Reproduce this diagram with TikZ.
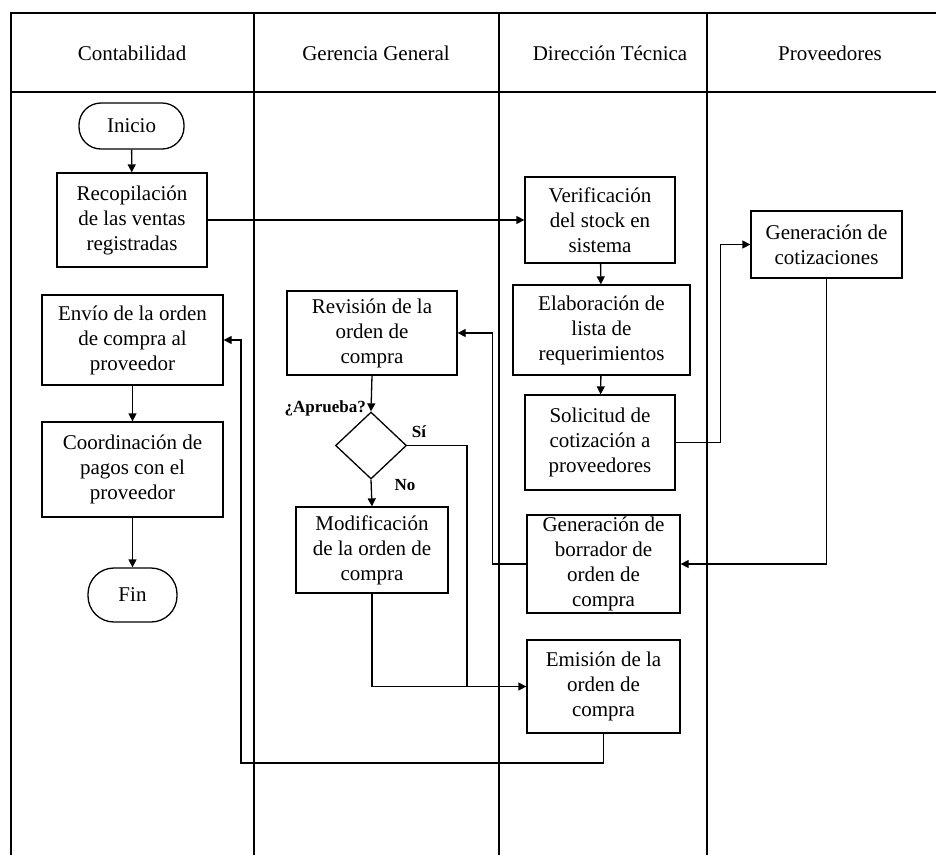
\documentclass[tikz,border=0pt]{standalone}
\usepackage{fontspec}
\setmainfont{Liberation Serif}
\usetikzlibrary{arrows.meta,shapes.geometric}
\begin{document}
\begin{tikzpicture}[x=1pt,y=-1pt,
  lane/.style={line width=1.4pt},
  proc/.style={draw,line width=1.3pt,align=center,inner sep=0pt,font=\fontsize{21}{25}\selectfont},
  term/.style={proc,rounded corners=22pt},
  dec/.style={draw,diamond,line width=1.3pt,inner sep=0pt,minimum width=71pt,minimum height=67pt},
  flow/.style={line width=1.3pt,-{Triangle[length=8pt,width=8pt]}},
  link/.style={line width=1.3pt},
  lbl/.style={font=\fontsize{17}{20}\selectfont\bfseries,inner sep=0pt},
  head/.style={font=\fontsize{21}{25}\selectfont,inner sep=0pt}]
\useasboundingbox (0,0) rectangle (936,855);
% swimlanes
\draw[lane] (11,855) -- (11,13) -- (936,13);
\draw[lane] (11,92) -- (936,92);
\draw[lane] (254,13) -- (254,855);
\draw[lane] (499,13) -- (499,855);
\draw[lane] (707,13) -- (707,855);
\node[head] (h1) at (132,53) {Contabilidad};
\node[head] (h2) at (376,53) {Gerencia General};
\node[head] (h3) at (610,53) {Dirección Técnica};
\node[head] (h4) at (830,53) {Proveedores};
% nodes
\node[term,minimum width=105pt,minimum height=46pt] (inicio) at (131.5,126) {Inicio};
\node[proc,minimum width=150pt,minimum height=94pt] (recop) at (132,220) {Recopilación\\de las ventas\\registradas};
\node[proc,minimum width=150pt,minimum height=86pt] (verif) at (600,220) {Verificación\\del stock en\\sistema};
\node[proc,minimum width=177pt,minimum height=90pt] (elab) at (601.5,330) {Elaboración de\\lista de\\requerimientos};
\node[proc,minimum width=150pt,minimum height=95pt] (solic) at (600,442.5) {Solicitud de\\cotización a\\proveedores};
\node[proc,minimum width=151pt,minimum height=67pt] (gencot) at (826.5,244.5) {Generación de\\cotizaciones};
\node[proc,minimum width=153pt,minimum height=98pt] (borr) at (603.5,564) {Generación de\\borrador de\\orden de\\compra};
\node[proc,minimum width=153pt,minimum height=93pt] (emis) at (603.5,686.5) {Emisión de la\\orden de\\compra};
\node[proc,minimum width=170pt,minimum height=84pt] (rev) at (372,333) {Revisión de la\\orden de\\compra};
\node[dec] (dia) at (371,445.5) {};
\node[proc,minimum width=152pt,minimum height=86pt] (modif) at (372,550) {Modificación\\de la orden de\\compra};
\node[proc,minimum width=181pt,minimum height=90pt] (envio) at (132.5,340) {Envío de la orden\\de compra al\\proveedor};
\node[proc,minimum width=181pt,minimum height=95pt] (coord) at (132.5,469.5) {Coordinación de\\pagos con el\\proveedor};
\node[term,minimum width=89pt,minimum height=54pt,rounded corners=26pt] (fin) at (132.5,595) {Fin};
% labels
\node[lbl,anchor=east] (apr) at (366,408) {¿Aprueba?};
\node[lbl] (si) at (419,432) {Sí};
\node[lbl] (no) at (405,485) {No};
% connectors
\coordinate (j) at (467,686.5);
\coordinate (r1) at (241,763);
\draw[flow] (inicio) -- (recop);
\draw[flow] (recop.east) -- (verif.west);
\draw[flow] (verif) -- (elab);
\draw[flow] (elab) -- (solic);
\draw[flow] (solic.east) -- ++(45,0) |- (gencot.west);
\draw[flow] (gencot.south) |- (borr.east);
\draw[flow] (borr.west) -- ++(-34,0) |- (rev.east);
\draw[flow] (rev.south) -- (dia.north);
\draw[link] (dia.east) -| (j);
\draw[flow] (dia.south) -- (modif.north);
\draw[flow] (modif.south) |- (emis.west);
\draw[flow] (emis.south) |- (r1) |- (envio.east);
\draw[flow] (envio) -- (coord);
\draw[flow] (coord) -- (fin);
\end{tikzpicture}
\end{document}
